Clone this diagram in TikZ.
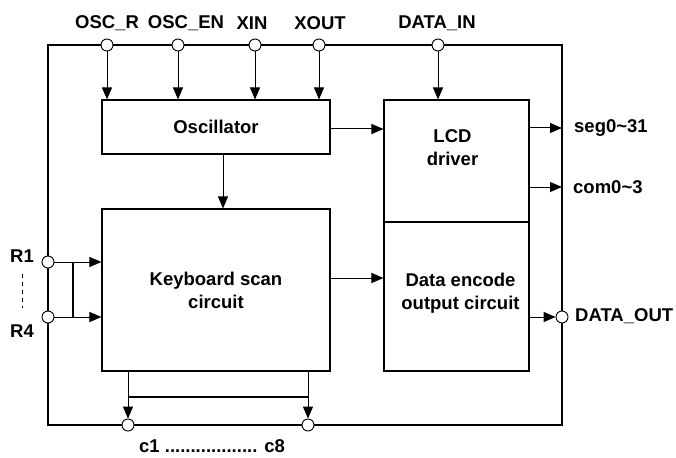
\documentclass[tikz,border=0pt]{standalone}
\usepackage{fontspec}
\setmainfont{Liberation Sans}
\usetikzlibrary{arrows.meta}

\tikzset{
  block/.style={draw, line width=1.1pt, inner sep=0pt, align=center},
  pinc/.style={circle, draw, fill=white, line width=0.9pt, minimum size=12pt, inner sep=0pt},
  sig/.style={line width=1pt, -{Triangle[length=12pt,width=10pt]}},
  wire/.style={line width=1.2pt},
  txt/.style={font=\bfseries\fontsize{18.5}{23}\selectfont, align=center, inner sep=0pt}
}

\begin{document}
\begin{tikzpicture}[x=1pt,y=-1pt]
  \useasboundingbox (0,0) rectangle (676,457);

  % blocks
  \node[block, minimum width=228pt, minimum height=54pt] (osc) at (216,127) {};
  \node[txt] (osct) at (osc.center) {Oscillator};
  \node[block, minimum width=228pt, minimum height=162pt] (kbd) at (216,290) {};
  \node[txt] (kbdt) at (kbd.center) {Keyboard scan\\circuit};
  \node[block, minimum width=145pt, minimum height=122pt] (lcd) at (456.5,161) {};
  \node[txt] (lcdt) at ([xshift=-4pt,yshift=13pt]lcd.center) {LCD\\driver};
  \node[block, minimum width=145pt, minimum height=149pt] (enc) at (456.5,296.5) {};
  \node[txt] (enct) at ([xshift=4pt,yshift=3pt]enc.center) {Data encode\\output circuit};

  % outer frame
  \draw[wire] (48,45) rectangle (562,425);

  % pins on top
  \foreach \nm/\x/\lx/\t in {oscr/107/107/OSC\_R, oscen/178/186/OSC\_EN, xin/255/252/XIN, xout/319/320/XOUT} {
    \node[pinc] (\nm) at (\x,45) {};
    \node[txt] (\nm-l) at (\lx,23) {\t};
    \draw[sig] (\nm) -- (\nm |- osc.north);
  }
  \node[pinc] (din) at (438,45) {};
  \node[txt] (din-l) at (437,23) {DATA\_IN};
  \draw[sig] (din) -- (din |- lcd.north);

  % internal paths
  \draw[sig] ([yshift=-2pt]osc.east) -- ([yshift=-2pt]osc.east -| lcd.west);
  \draw[sig] ([xshift=7pt]osc.south) -- ([xshift=7pt]kbd.north);
  \draw[sig] ([yshift=12pt]kbd.east) -- ([yshift=12pt]kbd.east -| enc.west);

  % LCD outputs
  \coordinate (seg) at (562,128);
  \coordinate (com) at (562,187);
  \draw[sig] (seg -| lcd.east) -- (seg);
  \draw[sig] (com -| lcd.east) -- (com);
  \node[txt, anchor=west] (seg-l) at (574,128) {seg0\textasciitilde 31};
  \node[txt, anchor=west] (com-l) at (573,187) {com0\textasciitilde 3};

  % row inputs
  \node[pinc] (r1) at (48,262) {};
  \node[pinc] (r4) at (48,317) {};
  \draw[sig] (r1) -- (r1 -| kbd.west);
  \draw[sig] (r4) -- (r4 -| kbd.west);
  \coordinate (rb1) at (73,262);
  \coordinate (rb4) at (73,317);
  \draw[line width=2.4pt] (rb1) -- (rb4);
  \node[txt] (r1-l) at (22,256) {R1};
  \node[txt] (r4-l) at (22,331) {R4};
  \draw[line width=0.8pt, dash pattern=on 4pt off 4pt] (22,274) -- (22,308);

  % data output
  \node[pinc] (dout) at (562,317) {};
  \draw[sig] (dout -| enc.east) -- (dout.west);
  \node[txt, anchor=west] (dout-l) at (575,316) {DATA\_OUT};

  % column outputs
  \node[pinc] (c1) at (128,425) {};
  \node[pinc] (c8) at (308,425) {};
  \draw[sig] (c1 |- kbd.south) -- (c1.north);
  \draw[sig] (c8 |- kbd.south) -- (c8.north);
  \coordinate (cb1) at (128,397);
  \coordinate (cb8) at (308,397);
  \draw[line width=2pt] (cb1) -- (cb8);
  \node[txt] (c-l) at (212,446) {c1 .................. c8};
\end{tikzpicture}
\end{document}
